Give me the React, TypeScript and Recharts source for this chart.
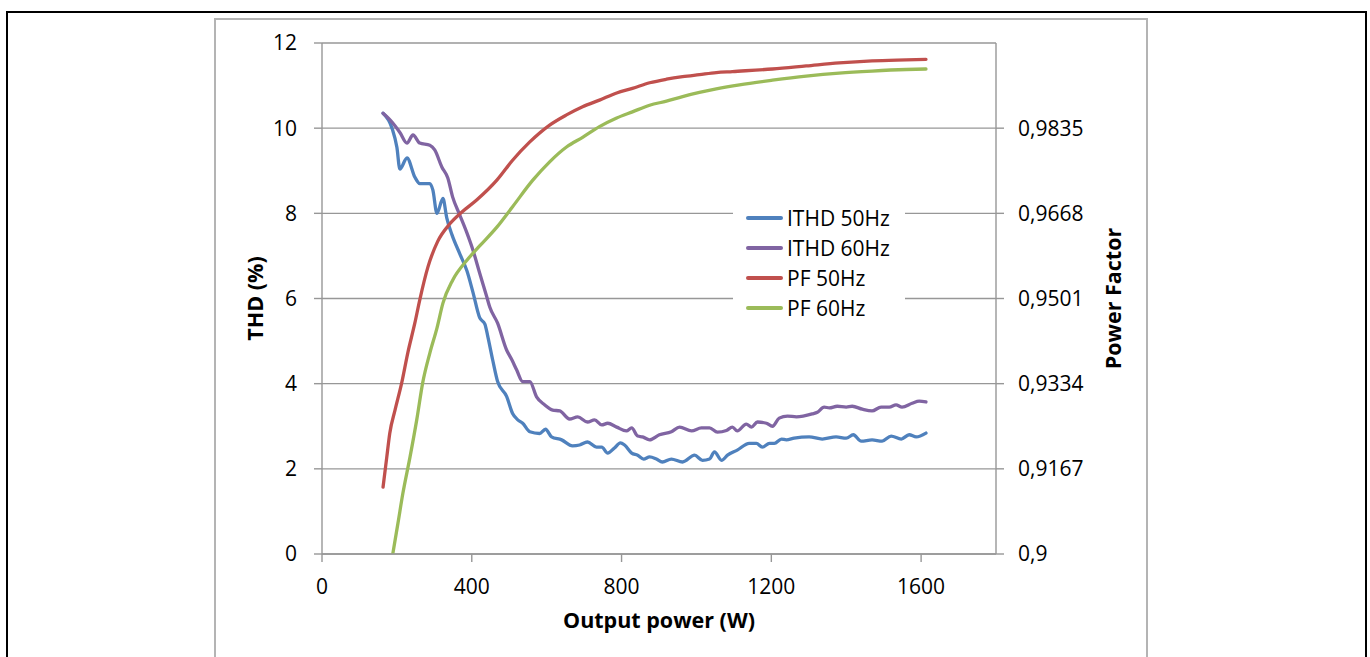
import React from 'react';
import { LineChart, Line, XAxis, YAxis, CartesianGrid, Legend } from 'recharts';

// Output power (W) and values
const ithd50Power = [163, 187, 200, 208, 227, 248, 261, 288, 296, 307, 323, 333, 347, 368, 387, 403, 421, 435, 443, 456, 469, 493, 509, 523, 536, 555, 581, 597, 613, 640, 669, 688, 709, 733, 747, 763, 781, 797, 808, 827, 843, 859, 875, 893, 909, 933, 963, 995, 1016, 1035, 1048, 1067, 1083, 1109, 1141, 1160, 1176, 1195, 1208, 1227, 1240, 1261, 1301, 1336, 1373, 1400, 1419, 1440, 1469, 1496, 1520, 1547, 1568, 1587, 1613];
const ithd50 = [10.35, 10.0, 9.55, 9.04, 9.3, 8.85, 8.7, 8.7, 8.55, 8.0, 8.35, 7.9, 7.5, 7.05, 6.65, 6.15, 5.55, 5.4, 5.1, 4.55, 4.05, 3.7, 3.3, 3.15, 3.07, 2.87, 2.83, 2.93, 2.75, 2.68, 2.54, 2.56, 2.63, 2.51, 2.51, 2.37, 2.49, 2.61, 2.56, 2.37, 2.32, 2.23, 2.28, 2.23, 2.16, 2.23, 2.16, 2.32, 2.2, 2.23, 2.4, 2.2, 2.32, 2.44, 2.6, 2.6, 2.51, 2.6, 2.6, 2.7, 2.68, 2.72, 2.75, 2.7, 2.75, 2.72, 2.8, 2.65, 2.68, 2.65, 2.77, 2.7, 2.8, 2.75, 2.84];

const ithd60Power = [163, 181, 208, 227, 243, 261, 288, 301, 320, 336, 349, 368, 387, 403, 421, 440, 448, 469, 493, 507, 520, 536, 555, 573, 595, 616, 635, 661, 683, 709, 728, 747, 763, 787, 813, 827, 843, 856, 875, 901, 933, 955, 987, 1013, 1035, 1056, 1080, 1096, 1109, 1133, 1147, 1163, 1187, 1203, 1221, 1243, 1267, 1309, 1323, 1341, 1355, 1376, 1400, 1416, 1443, 1469, 1493, 1515, 1533, 1549, 1576, 1595, 1613];
const ithd60 = [10.35, 10.2, 9.9, 9.65, 9.84, 9.65, 9.6, 9.49, 9.09, 8.83, 8.38, 7.96, 7.54, 7.14, 6.6, 6.04, 5.8, 5.42, 4.79, 4.56, 4.32, 4.05, 4.05, 3.69, 3.5, 3.38, 3.36, 3.17, 3.22, 3.1, 3.15, 3.03, 3.07, 2.98, 2.89, 2.96, 2.77, 2.75, 2.68, 2.8, 2.87, 2.98, 2.89, 2.96, 2.96, 2.86, 2.9, 2.98, 2.89, 3.05, 2.98, 3.1, 3.07, 3.0, 3.19, 3.24, 3.22, 3.29, 3.33, 3.45, 3.43, 3.47, 3.45, 3.47, 3.4, 3.36, 3.45, 3.45, 3.5, 3.45, 3.54, 3.59, 3.57];

const pf50Power = [163, 173, 181, 195, 213, 229, 248, 261, 283, 309, 341, 373, 413, 467, 509, 555, 608, 653, 696, 741, 787, 829, 875, 920, 963, 1008, 1053, 1096, 1203, 1293, 1381, 1469, 1560, 1613];
const pf50 = [0.9131, 0.919, 0.9237, 0.9282, 0.9336, 0.9394, 0.9453, 0.9498, 0.9563, 0.9613, 0.9647, 0.967, 0.9694, 0.9733, 0.9772, 0.9808, 0.9841, 0.9861, 0.9877, 0.989, 0.9904, 0.9913, 0.9924, 0.9931, 0.9936, 0.994, 0.9944, 0.9946, 0.9951, 0.9957, 0.9963, 0.9967, 0.9969, 0.997];

const pf60Power = [189, 203, 216, 235, 253, 269, 288, 307, 323, 349, 387, 421, 467, 509, 563, 608, 653, 696, 741, 787, 829, 875, 920, 963, 1008, 1053, 1115, 1203, 1293, 1381, 1469, 1560, 1613];
const pf60 = [0.9, 0.9061, 0.9119, 0.919, 0.9263, 0.9336, 0.9394, 0.9443, 0.9492, 0.9537, 0.9576, 0.9604, 0.9641, 0.9681, 0.9733, 0.9769, 0.9798, 0.9817, 0.9838, 0.9855, 0.9867, 0.988, 0.9888, 0.9897, 0.9905, 0.9912, 0.992, 0.9929, 0.9937, 0.9943, 0.9947, 0.995, 0.9951];

const xTicks = [0, 400, 800, 1200, 1600];
const thdTicks = [0, 2, 4, 6, 8, 10, 12];
const pfTicks = [0.9, 0.9167, 0.9334, 0.9501, 0.9668, 0.9835];

const seriesNames = ['ITHD 50Hz', 'ITHD 60Hz', 'PF 50Hz', 'PF 60Hz'];
const seriesColors = ['#4F81BD', '#8064A2', '#C0504D', '#9BBB59'];

const zip = (xs: number[], ys: number[]) => xs.map((x, i) => ({ x, y: ys[i] }));
const ithd50Data = zip(ithd50Power, ithd50);
const ithd60Data = zip(ithd60Power, ithd60);
const pf50Data = zip(pf50Power, pf50);
const pf60Data = zip(pf60Power, pf60);

const FONT = '"Open Sans", sans-serif';
const GRID = '#979797';
const TITLE_SIZE = 21.5;

const tickStyle = { fill: '#000', fontSize: 21, fontFamily: FONT };

const LegendBox = () => (
  <div style={{ background: '#fff', width: 172, fontFamily: FONT, fontSize: 21, color: '#000', paddingLeft: 13, boxSizing: 'border-box' }}>
    {seriesNames.map((n, i) => (
      <div key={n} style={{ height: 30, display: 'flex', alignItems: 'center' }}>
        <div style={{ width: 37, height: 4, borderRadius: 2, background: seriesColors[i], marginRight: 4 }} />
        <span style={{ lineHeight: '30px' }}>{n}</span>
      </div>
    ))}
  </div>
);

const leftTitle = (p: any) => {
  const vb = p && p.viewBox ? p.viewBox : { x: 0, y: 24, width: 107, height: 511 };
  const cx = vb.x + 39;
  const cy = vb.y + vb.height / 2;
  return (
    <text x={cx} y={cy} transform={`rotate(-90 ${cx} ${cy})`} textAnchor="middle" dominantBaseline="central"
      style={{ fontFamily: FONT, fontSize: TITLE_SIZE, fontWeight: 700, fill: '#000' }}>THD (%)</text>
  );
};
const rightTitle = (p: any) => {
  const vb = p && p.viewBox ? p.viewBox : { x: 781, y: 24, width: 151, height: 511 };
  const cx = vb.x + 116;
  const cy = vb.y + vb.height / 2;
  return (
    <text x={cx} y={cy} transform={`rotate(-90 ${cx} ${cy})`} textAnchor="middle" dominantBaseline="central"
      style={{ fontFamily: FONT, fontSize: TITLE_SIZE, fontWeight: 700, fill: '#000' }}>Power Factor</text>
  );
};
const bottomTitle = (p: any) => {
  const vb = p && p.viewBox ? p.viewBox : { x: 107, y: 535, width: 674, height: 103 };
  return (
    <text x={vb.x + vb.width / 2} y={vb.y + 74} textAnchor="middle"
      style={{ fontFamily: FONT, fontSize: TITLE_SIZE, fontWeight: 700, fill: '#000' }}>Output power (W)</text>
  );
};

export default function App() {
  return (
    <div style={{ position: 'absolute', left: 0, top: 0, width: 1370, height: 657, overflow: 'hidden', background: '#fff' }}>
      <div style={{ position: 'absolute', left: 6, top: 11, width: 1361, height: 720, border: '2px solid #000', boxSizing: 'border-box' }} />
      <div style={{ position: 'absolute', left: 214, top: 18, width: 934, height: 720, border: '2px solid #b4b4b4', boxSizing: 'border-box' }} />
      <div style={{ position: 'absolute', left: 215, top: 19 }}>
        <LineChart width={932} height={638} margin={{ top: 24, right: 0, left: 0, bottom: 0 }}>
          <CartesianGrid yAxisId="left" vertical={false} stroke={GRID} strokeWidth={1.4} />
          <XAxis type="number" dataKey="x" domain={[0, 1800]} ticks={xTicks} allowDataOverflow
            height={103} tickSize={8} tickMargin={17} stroke={GRID} strokeWidth={1.4}
            tick={tickStyle} label={{ content: bottomTitle }} />
          <YAxis yAxisId="left" type="number" domain={[0, 12]} ticks={thdTicks} allowDataOverflow
            width={107} tickSize={8} tickMargin={17} stroke={GRID} strokeWidth={1.4}
            tick={tickStyle} label={{ content: leftTitle }} />
          <YAxis yAxisId="right" orientation="right" type="number" domain={[0.9, 1.0002]} ticks={pfTicks} allowDataOverflow
            width={151} tickSize={8} tickMargin={14} stroke={GRID} strokeWidth={1.4}
            tick={tickStyle} tickFormatter={(v: number) => String(v).replace('.', ',')}
            label={{ content: rightTitle }} />
          <Legend content={() => <LegendBox />} layout="horizontal" verticalAlign="middle" align="center"
            wrapperStyle={{ position: 'absolute', left: 518, top: 184, width: 172 }} />
          <Line yAxisId="left" data={ithd50Data} dataKey="y" name={seriesNames[0]} type="monotone" stroke={seriesColors[0]} strokeWidth={3.3} dot={false} isAnimationActive={false} strokeLinecap="round" strokeLinejoin="round" />
          <Line yAxisId="left" data={ithd60Data} dataKey="y" name={seriesNames[1]} type="monotone" stroke={seriesColors[1]} strokeWidth={3.3} dot={false} isAnimationActive={false} strokeLinecap="round" strokeLinejoin="round" />
          <Line yAxisId="right" data={pf50Data} dataKey="y" name={seriesNames[2]} type="monotone" stroke={seriesColors[2]} strokeWidth={3.3} dot={false} isAnimationActive={false} strokeLinecap="round" strokeLinejoin="round" />
          <Line yAxisId="right" data={pf60Data} dataKey="y" name={seriesNames[3]} type="monotone" stroke={seriesColors[3]} strokeWidth={3.3} dot={false} isAnimationActive={false} strokeLinecap="round" strokeLinejoin="round" />
        </LineChart>
      </div>
    </div>
  );
}
